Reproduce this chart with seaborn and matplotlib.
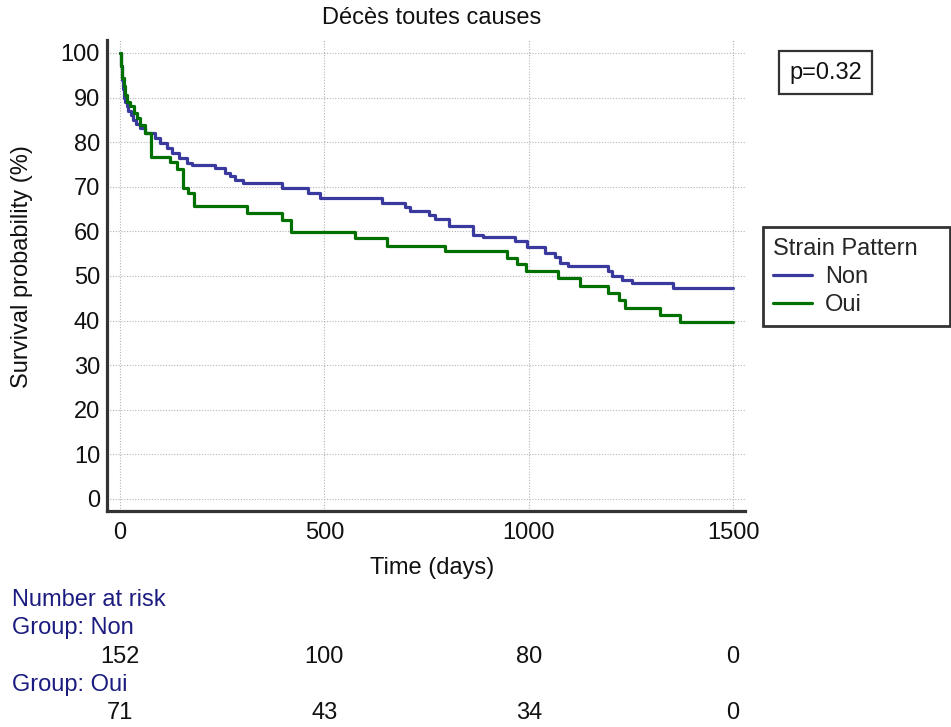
import matplotlib
matplotlib.use("Agg")
import matplotlib.pyplot as plt
import matplotlib.transforms as mtransforms
from matplotlib.lines import Line2D
from matplotlib.patches import Rectangle
from matplotlib.ticker import MultipleLocator
import numpy as np
import pandas as pd
import seaborn as sns

# Kaplan-Meier step estimates (time in days, survival in %)
non_time = [0, 2, 4, 6, 9, 12, 16, 20, 26, 32, 40, 48, 61, 86, 98, 115, 127, 143,
            163, 175, 232, 257, 269, 281, 301, 396, 460, 490, 641, 697, 709, 755,
            771, 805, 864, 888, 966, 995, 1040, 1064, 1077, 1097, 1195, 1203, 1228,
            1253, 1354, 1500]
non_surv = [100, 97, 94, 92, 90, 89, 88, 87, 86, 85, 84, 83.1, 82.1, 80.9, 79.7,
            78.6, 77.5, 76.4, 75.4, 74.8, 74.2, 73.0, 72.3, 71.5, 70.8, 69.7, 68.7,
            67.4, 66.3, 65.4, 64.6, 63.7, 62.7, 61.2, 59.2, 58.7, 57.9, 56.4, 55.2,
            54.2, 53.0, 52.2, 51.1, 50.0, 49.1, 48.4, 47.4, 47.4]

oui_time = [0, 3, 5, 9, 13, 17, 25, 33, 42, 49, 61, 75, 122, 139, 153, 166, 182,
            310, 396, 418, 575, 653, 795, 947, 970, 993, 1072, 1125, 1195, 1220,
            1235, 1321, 1370, 1500]
oui_surv = [100, 97, 94.4, 92.5, 90.6, 89.1, 88, 86.5, 85.4, 83.9, 82, 76.7, 75.6,
            73.9, 69.8, 68.5, 65.7, 64.2, 62.6, 59.9, 58.4, 56.8, 55.5, 54.1, 52.7,
            51.2, 49.5, 47.8, 46.1, 44.6, 42.9, 41.3, 39.6, 39.6]

groups = ["Non", "Oui"]
group_colors = ["#3a3a9e", "#007000"]

risk_times = [0, 500, 1000, 1500]
risk_non = [152, 100, 80, 0]
risk_oui = [71, 43, 34, 0]

p_label = "p=0.32"

df = pd.concat([
    pd.DataFrame({"time": non_time, "surv": non_surv, "group": "Non"}),
    pd.DataFrame({"time": oui_time, "surv": oui_surv, "group": "Oui"}),
], ignore_index=True)

sns.set_theme(style="white")
plt.rcParams["font.family"] = ["Liberation Sans", "DejaVu Sans"]
FS = 17

W, H = 951, 727
fig = plt.figure(figsize=(W / 100, H / 100), dpi=100)


def fx(px):
    return px / W


def fy(py):
    return 1 - py / H


ax = fig.add_axes([fx(107), fy(511), fx(745) - fx(107), fy(40) - fy(511)])

sns.lineplot(data=df, x="time", y="surv", hue="group", hue_order=groups,
             palette=dict(zip(groups, group_colors)), drawstyle="steps-post",
             estimator=None, sort=False, linewidth=2.3, legend=False, ax=ax)

ax.set_xlim(-32, 1529)
ax.set_ylim(-2.7, 102.9)
ax.set_xticks(risk_times)
ax.set_yticks(np.arange(0, 101, 10))
ax.yaxis.set_minor_locator(MultipleLocator(5))
ax.grid(True, which="major", linestyle=(0, (1, 1.5)), color="#b4b4b4", linewidth=0.8)
ax.set_axisbelow(True)

spine_col = "#333333"
for side in ["top", "right"]:
    ax.spines[side].set_visible(False)
for side in ["left", "bottom"]:
    ax.spines[side].set_color(spine_col)
    ax.spines[side].set_linewidth(2.3)

ax.tick_params(axis="y", which="major", direction="in", length=8.5, width=1.8,
               color=spine_col, labelsize=FS, pad=5, labelcolor="#111111")
ax.tick_params(axis="y", which="minor", direction="in", length=4.5, width=1.5,
               color=spine_col)
ax.tick_params(axis="x", which="major", direction="in", length=8.5, width=1.8,
               color=spine_col, labelsize=FS, pad=8, labelcolor="#111111")
ax.set_xlabel("")
ax.set_ylabel("")

# titles and axis labels
fig.text(fx(432), fy(18), "Décès toutes causes", ha="center", va="center",
         fontsize=FS, color="#111111")
fig.text(fx(432), fy(568), "Time (days)", ha="center", va="center",
         fontsize=FS, color="#111111")
fig.text(fx(22), fy(267), "Survival probability (%)", ha="center", va="center",
         rotation=90, fontsize=FS, color="#111111")

# log-rank p-value box
fig.patches.append(Rectangle((fx(779), fy(94)), fx(872) - fx(779), fy(51) - fy(94),
                             transform=fig.transFigure, facecolor="white",
                             edgecolor=spine_col, linewidth=1.6))
fig.text(fx(826), fy(73), p_label, ha="center", va="center", fontsize=FS,
         color="#111111")

# legend with its own frame
fig.patches.append(Rectangle((fx(763), fy(326)), fx(950) - fx(763), fy(227) - fy(326),
                             transform=fig.transFigure, facecolor="white",
                             edgecolor=spine_col, linewidth=2.0))
handles = [Line2D([], [], color=c, linewidth=2.3) for c in group_colors]
leg = fig.legend(handles, groups, title="Strain Pattern", loc="upper left",
                 bbox_to_anchor=(fx(773), fy(238)), frameon=False, fontsize=FS,
                 title_fontsize=FS, handlelength=1.65, handletextpad=0.55,
                 labelspacing=0.26, borderpad=0, borderaxespad=0, alignment="left")

# number-at-risk table
blend = mtransforms.blended_transform_factory(ax.transData, fig.transFigure)
navy = "#1c1c80"
fig.text(fx(12), fy(600), "Number at risk", ha="left", va="center", fontsize=FS,
         color=navy)
fig.text(fx(12), fy(628), "Group: Non", ha="left", va="center", fontsize=FS,
         color=navy)
fig.text(fx(12), fy(685), "Group: Oui", ha="left", va="center", fontsize=FS,
         color=navy)
for t, n in zip(risk_times, risk_non):
    ax.text(t, fy(657), str(n), transform=blend, ha="center", va="center",
            fontsize=FS, color="#111111", clip_on=False)
for t, n in zip(risk_times, risk_oui):
    ax.text(t, fy(713), str(n), transform=blend, ha="center", va="center",
            fontsize=FS, color="#111111", clip_on=False)

fig.savefig("out.png", dpi=100, facecolor="white")
